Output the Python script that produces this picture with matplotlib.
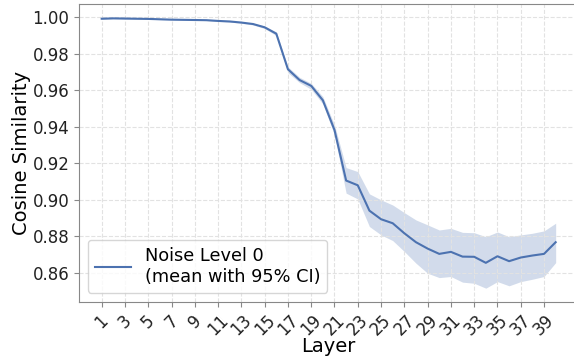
import matplotlib.pyplot as plt
import numpy as np

# cosine similarity per layer (noise level 0)
layers = np.arange(1, 41)
mean = np.array([
    0.9992, 0.9994, 0.9993, 0.9992, 0.9991, 0.9989, 0.9987, 0.9986, 0.9985, 0.9984,
    0.9980, 0.9977, 0.9971, 0.9963, 0.9945, 0.9910, 0.9715, 0.9656, 0.9624, 0.9545,
    0.9382, 0.9105, 0.9079, 0.8940, 0.8893, 0.8871, 0.8816, 0.8767, 0.8732, 0.8703,
    0.8714, 0.8688, 0.8687, 0.8654, 0.8690, 0.8663, 0.8683, 0.8694, 0.8703, 0.8767,
])
ci_low = np.array([
    0.9990, 0.9992, 0.9991, 0.9990, 0.9989, 0.9987, 0.9985, 0.9984, 0.9983, 0.9982,
    0.9977, 0.9974, 0.9967, 0.9958, 0.9938, 0.9900, 0.9696, 0.9642, 0.9605, 0.9525,
    0.9355, 0.9036, 0.9004, 0.8853, 0.8807, 0.8776, 0.8716, 0.8652, 0.8597, 0.8573,
    0.8579, 0.8548, 0.8542, 0.8515, 0.8551, 0.8528, 0.8551, 0.8564, 0.8579, 0.8655,
])
ci_high = np.array([
    0.9994, 0.9996, 0.9995, 0.9994, 0.9993, 0.9991, 0.9989, 0.9988, 0.9987, 0.9986,
    0.9983, 0.9980, 0.9975, 0.9968, 0.9952, 0.9920, 0.9729, 0.9671, 0.9638, 0.9565,
    0.9410, 0.9176, 0.9154, 0.9032, 0.8999, 0.8971, 0.8929, 0.8889, 0.8862, 0.8834,
    0.8843, 0.8821, 0.8819, 0.8797, 0.8823, 0.8797, 0.8807, 0.8816, 0.8829, 0.8871,
])

color = '#4c72b0'

fig = plt.figure(figsize=(5.74, 3.60), dpi=100)
ax = fig.add_axes([0.1376, 0.162, 0.870, 0.826])

ax.fill_between(layers, ci_low, ci_high, color=color, alpha=0.25, linewidth=0)
ax.plot(layers, mean, color=color, linewidth=1.5,
        label='Noise Level 0\n(mean with 95% CI)')

ax.set_xlim(-0.95, 41.95)
ax.set_ylim(0.8441, 1.0071)
ax.set_xticks(layers[::2])
ax.set_yticks(np.arange(0.86, 1.001, 0.02))
ax.yaxis.set_major_formatter(plt.FormatStrFormatter('%.2f'))
ax.tick_params(axis='x', labelsize=12, rotation=45, colors='#888888', labelcolor='#222222')
ax.tick_params(axis='y', labelsize=12, colors='#888888', labelcolor='#222222')

ax.set_xlabel('Layer', fontsize=14)
ax.set_ylabel('Cosine Similarity', fontsize=14)
ax.xaxis.set_label_coords(0.4996, -0.118)
ax.yaxis.set_label_coords(-0.097, 0.5)

ax.grid(True, linestyle='--', color='#e2e2e2', linewidth=0.8)
for side in ['left', 'bottom', 'top']:
    ax.spines[side].set_color('#888888')
ax.spines['right'].set_visible(False)

leg = ax.legend(loc='lower left', fontsize=12.8, handlelength=2.0, borderaxespad=0.5)
leg.get_frame().set_edgecolor('#cccccc')

fig.savefig('out.png', dpi=100)
